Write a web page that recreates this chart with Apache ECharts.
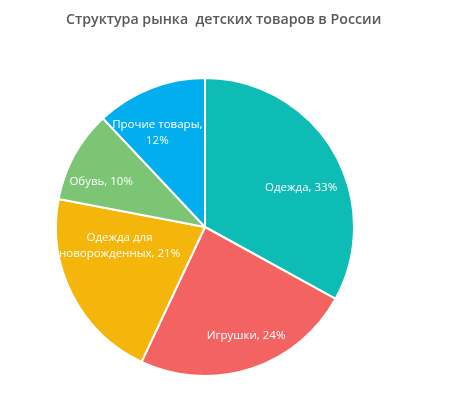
<!DOCTYPE html>
<html><head><meta charset="utf-8">
<script src="https://cdn.jsdelivr.net/npm/echarts@6/dist/echarts.min.js"></script>
<style>html,body{margin:0;padding:0;background:#fff}#c{width:474px;height:409px}</style>
</head><body><div id="c"></div>
<script>
const titleText = 'Структура рынка  детских товаров в России';
const categories = ['Одежда', 'Игрушки', 'Одежда для\nноворожденных', 'Обувь', 'Прочие товары'];
const values = [33, 24, 21, 10, 12];
const colors = ['#0DBCB4', '#F36361', '#F4B60A', '#7CC575', '#03AEEE'];
const labelBreak = [false, false, false, false, true];
const labelShift = [[1, 17], [7, 4], [13, -31], [-7, 8], [-7, 8]];

const chart = echarts.init(document.getElementById('c'), null, {renderer: 'canvas'});
const data = categories.map((c, i) => ({name: c, value: values[i], itemStyle: {color: colors[i]}}));
const center = ['205', '227'];
chart.setOption({
  animation: false,
  title: {
    text: titleText, left: 61, top: 8,
    textStyle: {fontFamily: 'Open Sans', fontSize: 14.2, fontWeight: 600, color: '#595959'}
  },
  series: [{
    type: 'pie', center: center, radius: [0, 149], startAngle: 90, clockwise: true,
    data: data, label: {show: false}, labelLine: {show: false},
    itemStyle: {borderColor: '#fff', borderWidth: 2}
  }, {
    type: 'pie', center: center, radius: [66, 149], startAngle: 90, clockwise: true, silent: true,
    data: data.map(d => ({name: d.name, value: d.value, itemStyle: {color: 'rgba(0,0,0,0)'}})),
    itemStyle: {borderWidth: 0},
    label: {
      show: true, position: 'inside', color: '#fff', fontFamily: 'Open Sans', fontSize: 11.5, lineHeight: 16,
      align: 'center',
      formatter: p => p.name + ',' + (labelBreak[p.dataIndex] ? '\n' : ' ') + p.value + '%'
    },
    labelLine: {show: false},
    labelLayout: p => ({dx: labelShift[p.dataIndex][0], dy: labelShift[p.dataIndex][1]})
  }]
});
</script></body></html>
